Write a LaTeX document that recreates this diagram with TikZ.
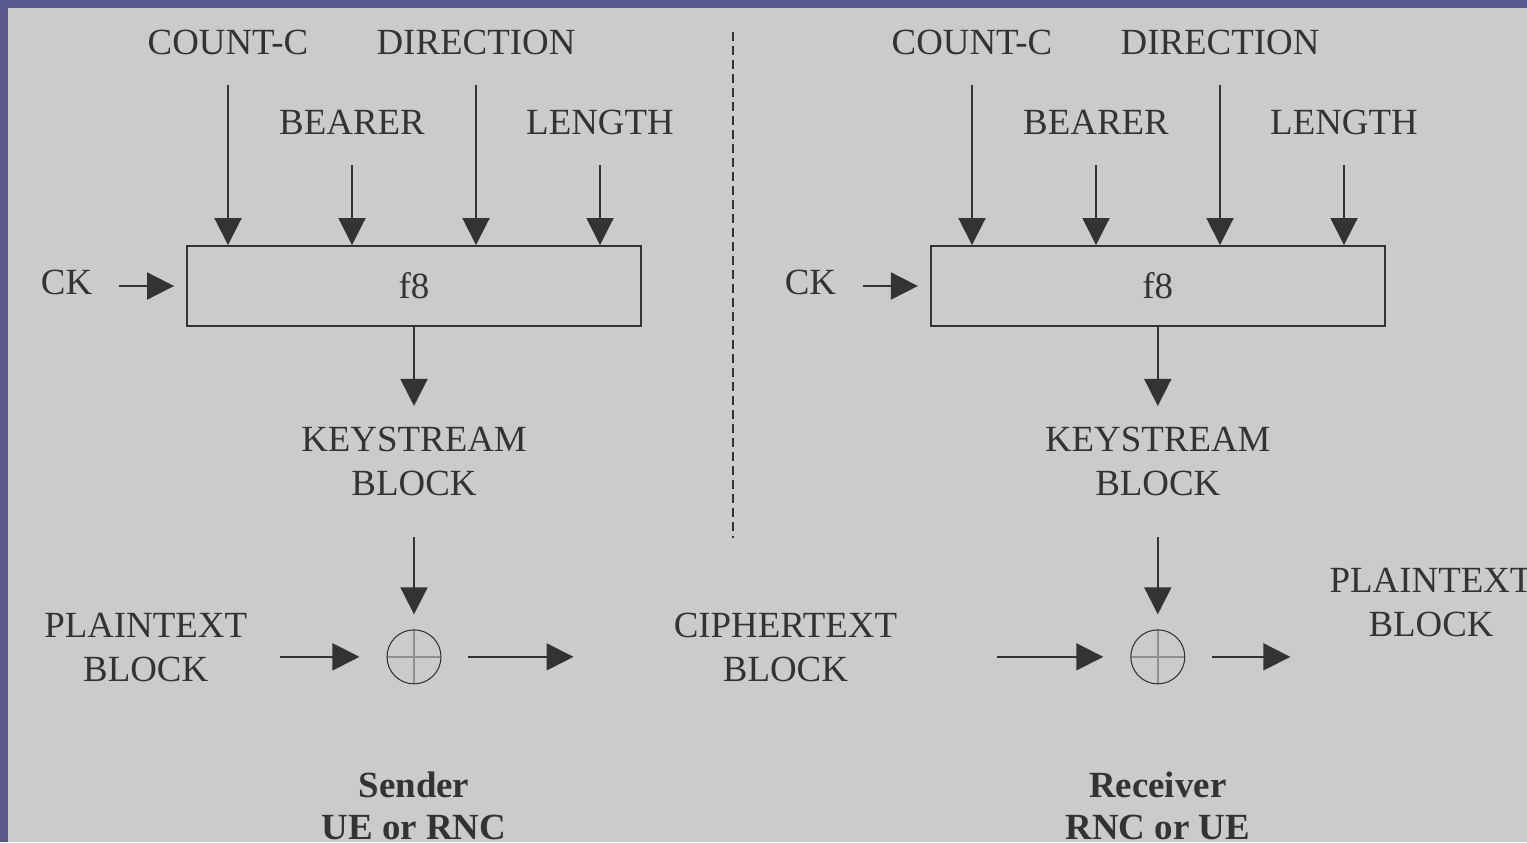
\documentclass[tikz,border=0pt]{standalone}
\usepackage{fontspec}
\setmainfont{Liberation Serif}
\usetikzlibrary{arrows.meta,positioning,shapes}
\definecolor{ink}{RGB}{51,51,51}
\definecolor{paper}{RGB}{203,203,203}
\definecolor{frame}{RGB}{88,88,142}

\begin{document}
\begin{tikzpicture}[
  x=0.02cm, y=-0.02cm,
  >={Triangle[length=0.54cm, width=0.54cm]},
  lbl/.style={inner sep=0, text=ink, align=center, font=\fontsize{21}{25}\selectfont},
  who/.style={inner sep=0, text=ink, align=center, font=\fontsize{21}{24}\selectfont\bfseries},
  fun/.style={draw=ink, line width=1.1pt, minimum width=9.08cm, minimum height=1.6cm,
              inner sep=0, text=ink, font=\fontsize{21}{25}\selectfont},
  xor/.style={circle, draw=ink, line width=0.6pt, minimum size=1.08cm, inner sep=0,
              path picture={\draw[ink!55, line width=0.9pt]
                (path picture bounding box.north) -- (path picture bounding box.south)
                (path picture bounding box.west) -- (path picture bounding box.east);}},
  arr/.style={->, draw=ink, line width=1.1pt},
  node distance=0.5cm
]
  \useasboundingbox (0,0) rectangle (1527,842);
  \fill[frame] (0,0) rectangle (1527,842);
  \fill[paper] (8,8) rectangle (1527,842);

  % sender
  \node[fun] (f8s) at (414,286) {f8};
  \node[lbl, anchor=base] (cs) at (228,54) {COUNT-C};
  \node[lbl, anchor=base] (ds) at (476,54) {DIRECTION};
  \node[lbl, anchor=base] (bs) at (352,134) {BEARER};
  \node[lbl, anchor=base] (ls) at (600,134) {LENGTH};
  \node[lbl, left=1.87cm of f8s, yshift=0.08cm] (cks) {CK};
  \node[lbl, below=2cm of f8s] (ks) {KEYSTREAM\\BLOCK};
  \node[xor, below=2.66cm of ks] (xs) {};
  \node[lbl, left=2.78cm of xs, yshift=0.18cm] (ps) {PLAINTEXT\\BLOCK};
  \node[who, below=1.74cm of xs] (snd) {Sender\\UE or RNC};
  \node[lbl, right=4.64cm of xs, yshift=0.18cm] (ct) {CIPHERTEXT\\BLOCK};

  % receiver
  \node[fun, right=5.76cm of f8s] (f8r) {f8};
  \node[lbl, anchor=base] (cr) at (972,54) {COUNT-C};
  \node[lbl, anchor=base] (dr) at (1220,54) {DIRECTION};
  \node[lbl, anchor=base] (br) at (1096,134) {BEARER};
  \node[lbl, anchor=base] (lr) at (1344,134) {LENGTH};
  \node[lbl, left=1.87cm of f8r, yshift=0.08cm] (ckr) {CK};
  \node[lbl, below=2cm of f8r] (kr) {KEYSTREAM\\BLOCK};
  \node[xor, below=2.66cm of kr] (xr) {};
  \node[lbl, right=2.88cm of xr, yshift=1.08cm] (pr) {PLAINTEXT\\BLOCK};
  \node[who, below=1.74cm of xr] (rcv) {Receiver\\RNC or UE};

  \draw[arr, shorten <=0.62cm] (cs.base) -- (cs.base |- f8s.north);
  \draw[arr, shorten <=0.62cm] (ds.base) -- (ds.base |- f8s.north);
  \draw[arr, shorten <=0.62cm] (bs.base) -- (bs.base |- f8s.north);
  \draw[arr, shorten <=0.62cm] (ls.base) -- (ls.base |- f8s.north);
  \draw[arr, shorten <=0.53cm, shorten >=0.24cm] (f8s.west -| cks.east) -- (f8s.west);
  \draw[arr, shorten >=0.42cm] (f8s) -- (ks);
  \draw[arr, shorten <=0.82cm, shorten >=0.3cm] (ks) -- (xs);
  \draw[arr, shorten <=0.64cm, shorten >=0.54cm] (ps.east |- xs) -- (xs);
  \draw[arr, shorten <=0.52cm, shorten >=2cm] (xs) -- (xs -| ct.west);

  \draw[arr, shorten <=0.62cm] (cr.base) -- (cr.base |- f8r.north);
  \draw[arr, shorten <=0.62cm] (dr.base) -- (dr.base |- f8r.north);
  \draw[arr, shorten <=0.62cm] (br.base) -- (br.base |- f8r.north);
  \draw[arr, shorten <=0.62cm] (lr.base) -- (lr.base |- f8r.north);
  \draw[arr, shorten <=0.53cm, shorten >=0.24cm] (f8r.west -| ckr.east) -- (f8r.west);
  \draw[arr, shorten >=0.42cm] (f8r) -- (kr);
  \draw[arr, shorten <=0.82cm, shorten >=0.3cm] (kr) -- (xr);
  \draw[arr, shorten <=2cm, shorten >=0.54cm] (ct.east |- xr) -- (xr);
  \draw[arr, shorten <=0.54cm, shorten >=0.78cm] (xr) -- (xr -| pr.west);

  \draw[ink, line width=0.8pt, dash pattern=on 0.18cm off 0.1cm] (733,32) -- (733,538);
\end{tikzpicture}
\end{document}
